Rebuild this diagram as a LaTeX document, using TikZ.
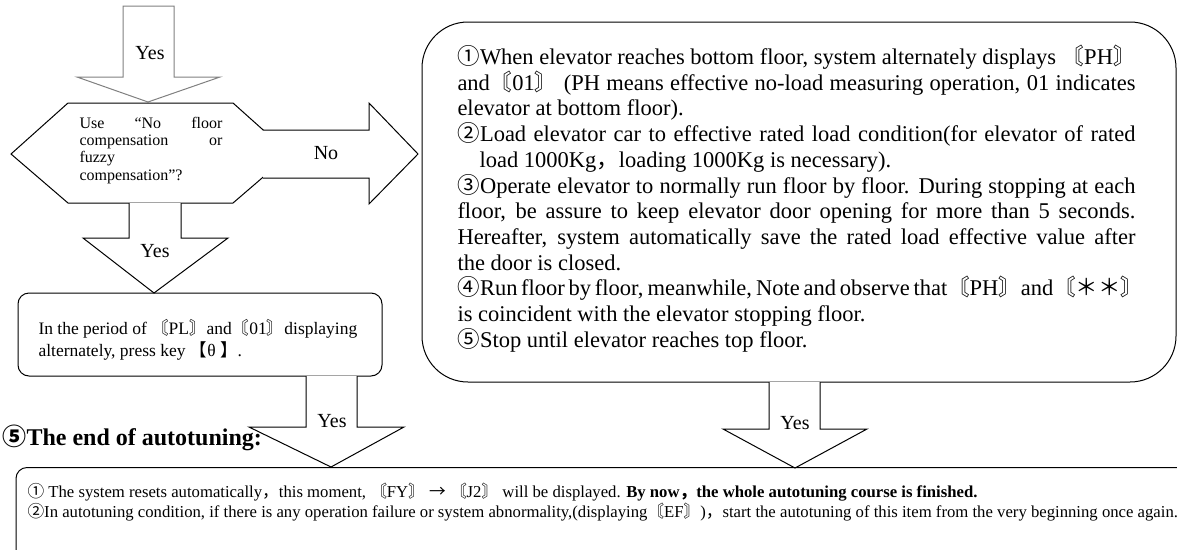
\documentclass[tikz,border=0pt]{standalone}
\usepackage{fontspec}
\setmainfont{Liberation Serif}
\newfontfamily\cjk{Noto Sans CJK SC}
\newcommand\LBr{{\cjk 〘}}
\newcommand\RBr{{\cjk 〙}}
\newcommand\FWc{{\cjk ，}}
\newcommand\cirI{{\cjk ①}}
\newcommand\cirII{{\cjk ②}}
\newcommand\cirIII{{\cjk ③}}
\newcommand\cirIV{{\cjk ④}}
\newcommand\cirV{{\cjk ⑤}}
\newcommand\rfont{\fontsize{22.5}{25.7}\selectfont}
\begin{document}
\begin{tikzpicture}[x=1pt,y=-1pt,line width=1pt,
  blockarrow/.style={draw=black,fill=white,line join=miter},
  grayarrow/.style={draw=black!50,fill=white,line join=miter},
  lbl/.style={inner sep=0pt,font=\fontsize{20}{24}\selectfont},
  rline/.style={anchor=base west,inner sep=0pt,font=\rfont},
  hline/.style={anchor=base west,inner sep=0pt,font=\fontsize{16}{17}\selectfont},
  lline/.style={anchor=base west,inner sep=0pt,font=\fontsize{17.5}{22}\selectfont},
  bline/.style={anchor=base west,inner sep=0pt,font=\fontsize{16.7}{20}\selectfont},
  roundbox/.style={draw=black,rounded corners=11pt}]
\useasboundingbox (0,0) rectangle (1177,549);
\clip (0,0) rectangle (1177,549);

% top gray arrow
\draw[grayarrow] (123,6) -- (174,6) -- (174,77) -- (220,77) -- (148,102) -- (77,77) -- (123,77) -- cycle;
\node[lbl] (yes1) at (150,53) {Yes};

% hexagon decision
\draw[blockarrow] (11,154) -- (68,103) -- (233,103) -- (290,154) -- (233,203) -- (68,203) -- cycle;
\node[hline] (h1) at (79,128) {\makebox[143pt][s]{Use “No floor}};
\node[hline] (h2) at (79,145.3) {\makebox[143pt][s]{compensation or}};
\node[hline] (h3) at (79,162.6) {fuzzy};
\node[hline] (h4) at (79,180) {compensation”?};

% No arrow
\draw[blockarrow] (263,130) -- (369,130) -- (369,103) -- (418,154) -- (369,204) -- (369,178) -- (263,178);
\node[lbl] (no) at (326,153) {No};

% Yes arrow below hexagon
\draw[blockarrow] (129,203) -- (129,238) -- (83,238) -- (154,293) -- (228,238) -- (181,238) -- (181,203);
\node[lbl] (yes2) at (155,251) {Yes};

% left box
\draw[roundbox] (18,293) rectangle (382,376);
\node[lline] (l1) at (38,334) {In the period of \LBr PL\RBr and\LBr 01\RBr displaying};
\node[lline] (l2) at (38,356) {alternately, press key {\cjk 【}θ {\cjk 】}.};

% right big box
\draw[draw=black,rounded corners=46pt] (422,22) rectangle (1176,382);
\node[rline] (r1) at (457,64.5) {\makebox[678pt][s]{\cirI When elevator reaches bottom floor, system alternately displays \LBr PH\RBr}};
\node[rline] (r2) at (457,90.2) {\makebox[678pt][s]{and\LBr 01\RBr\ (PH means effective no-load measuring operation, 01 indicates}};
\node[rline] (r3) at (457,115.9) {elevator at bottom floor).};
\node[rline] (r4) at (457,141.6) {\makebox[678pt][s]{\cirII Load elevator car to effective rated load condition(for elevator of rated}};
\node[rline] (r5) at (479,167.3) {load 1000Kg\FWc loading 1000Kg is necessary).};
\node[rline] (r6) at (457,193.0) {\makebox[678pt][s]{\cirIII Operate elevator to normally run floor by floor. During stopping at each}};
\node[rline] (r7) at (457,218.7) {\makebox[678pt][s]{floor, be assure to keep elevator door opening for more than 5 seconds.}};
\node[rline] (r8) at (457,244.4) {\makebox[678pt][s]{Hereafter, system automatically save the rated load effective value after}};
\node[rline] (r9) at (457,270.1) {the door is closed.};
\node[rline] (r10) at (457,295.8) {\makebox[678pt][s]{\cirIV Run floor by floor, meanwhile, Note and observe that\LBr PH\RBr and{\cjk 〘＊＊〙}}};
\node[rline] (r11) at (457,321.5) {is coincident with the elevator stopping floor.};
\node[rline] (r12) at (457,347.2) {\cirV Stop until elevator reaches top floor.};

% end title
\node[anchor=base west,inner sep=0pt,font=\fontsize{24}{28}\selectfont\bfseries] (endt) at (2,445) {{\cjk ⑤}The end of autotuning:};

% arrows into bottom box
\draw[blockarrow] (306,376) -- (306,427) -- (249,427) -- (331,467) -- (404,427) -- (357,427) -- (357,376);
\node[lbl] (yes3) at (332,421) {Yes};
\draw[blockarrow] (769,382) -- (769,429) -- (723,429) -- (795,468) -- (867,429) -- (820,429) -- (820,382);
\node[lbl] (yes4) at (795,423) {Yes};

% bottom box
\draw[roundbox] (16,467.5) rectangle (1210,580);
\node[bline] (b1) at (27,497) {\cirI\ The system resets automatically\FWc this moment, \LBr FY\RBr\ {\cjk →} \LBr J2\RBr\ will be displayed. \textbf{By now\FWc the whole autotuning course is finished.}};
\node[bline] (b2) at (27,517) {\cirII In autotuning condition, if there is any operation failure or system abnormality,(displaying\LBr EF\RBr)\FWc start the autotuning of this item from the very beginning once again.};
\end{tikzpicture}
\end{document}
